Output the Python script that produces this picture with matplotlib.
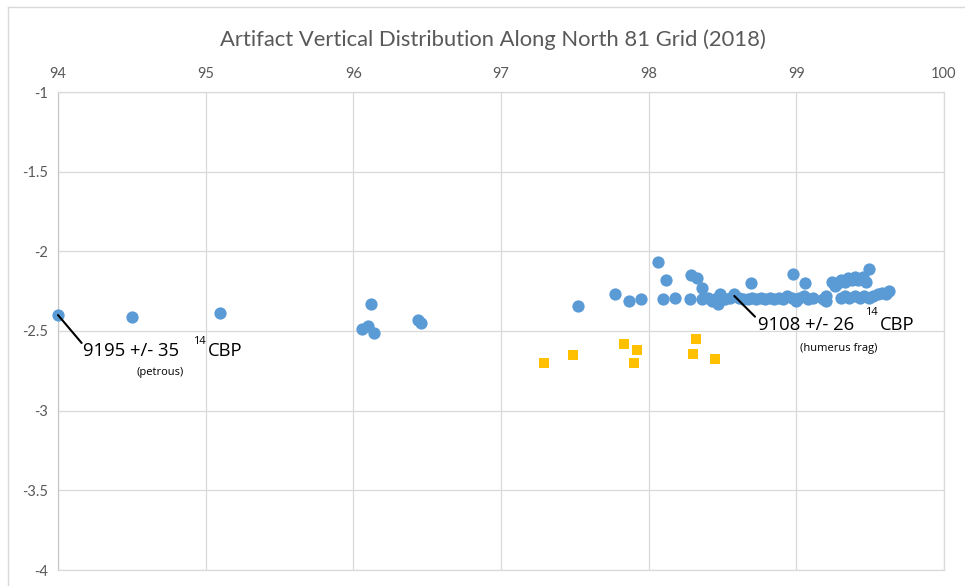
import matplotlib
matplotlib.use("Agg")
import matplotlib.pyplot as plt
from matplotlib.lines import Line2D

# data
blue_x = [94.00, 94.50, 95.10, 96.06, 96.10, 96.14, 96.12, 96.44, 96.46,
          97.52, 97.77, 97.87, 97.95, 98.06, 98.12, 98.10, 98.18, 98.28,
          98.29, 98.33, 98.36, 98.36, 98.40, 98.43, 98.45, 98.47, 98.48,
          98.52, 98.55, 98.58, 98.61, 98.64, 98.67, 98.69, 98.70, 98.73,
          98.76, 98.79, 98.82, 98.85, 98.88, 98.91, 98.94, 98.97, 98.98,
          99.00, 99.02, 99.05, 99.06, 99.08, 99.11, 99.18, 99.20, 99.20,
          99.24, 99.26, 99.28, 99.30, 99.33, 99.35, 99.38, 99.40, 99.42,
          99.45, 99.47, 99.49, 99.30, 99.33, 99.36, 99.40, 99.43, 99.46,
          99.49, 99.52, 99.55, 99.58, 99.61, 99.63]
blue_y = [-2.40, -2.41, -2.39, -2.49, -2.47, -2.51, -2.33, -2.43, -2.45,
          -2.34, -2.27, -2.31, -2.30, -2.07, -2.18, -2.30, -2.29, -2.30,
          -2.15, -2.17, -2.23, -2.30, -2.29, -2.31, -2.30, -2.33, -2.27,
          -2.30, -2.29, -2.27, -2.29, -2.30, -2.30, -2.20, -2.29, -2.30,
          -2.29, -2.30, -2.29, -2.30, -2.29, -2.30, -2.28, -2.29, -2.14,
          -2.31, -2.29, -2.28, -2.20, -2.30, -2.29, -2.30, -2.28, -2.31,
          -2.19, -2.22, -2.20, -2.18, -2.19, -2.17, -2.18, -2.16, -2.18,
          -2.16, -2.19, -2.11, -2.29, -2.28, -2.29, -2.28, -2.29, -2.28,
          -2.29, -2.28, -2.27, -2.26, -2.27, -2.25]

orange_x = [97.29, 97.49, 97.83, 97.92, 97.90, 98.32, 98.30, 98.45]
orange_y = [-2.70, -2.65, -2.58, -2.62, -2.70, -2.55, -2.645, -2.675]

x_ticks = [94, 95, 96, 97, 98, 99, 100]
y_ticks = [-1, -1.5, -2, -2.5, -3, -3.5, -4]

title = "Artifact Vertical Distribution Along North 81 Grid (2018)"

W, H = 965, 586
fig = plt.figure(figsize=(W / 100, H / 100), dpi=100)
ax = fig.add_axes([58 / W, 1 - 570 / H, (944 - 58) / W, (570 - 92) / H])

grey = "#595959"
grid_c = "#d9d9d9"

ax.scatter(blue_x, blue_y, s=78, color="#5b9bd5", marker="o", lw=0,
           zorder=3, clip_on=False)
ax.scatter(orange_x, orange_y, s=44, color="#ffc000", marker="s", lw=0,
           zorder=3, clip_on=False)

ax.set_xlim(94, 100)
ax.set_ylim(-4, -1)
ax.set_xticks(x_ticks)
ax.set_yticks(y_ticks)
ax.set_xticklabels([str(t) for t in x_ticks])
ax.set_yticklabels([("%g" % t) for t in y_ticks])
ax.xaxis.tick_top()
ax.tick_params(axis="x", length=0, pad=8, labelsize=10.5, labelcolor=grey)
ax.tick_params(axis="y", length=0, pad=7, labelsize=10.5, labelcolor=grey)
for lab in ax.get_xticklabels() + ax.get_yticklabels():
    lab.set_family("Lato")
ax.grid(True, color=grid_c, lw=0.9)
ax.set_axisbelow(True)
for side, sp in ax.spines.items():
    sp.set_color(grid_c)
    sp.set_linewidth(0.9)
ax.spines["left"].set_color("#c8c8c8")

fig.text(0.511, 1 - 40 / H, title, ha="center", va="center",
         fontsize=15.8, color=grey, family="Lato")

# annotations
font = ["Open Sans", "DejaVu Sans"]
ax.annotate("", xy=(blue_x[0], blue_y[0]), xytext=(94.16, -2.575),
            arrowprops=dict(arrowstyle="-", color="black", lw=1.5,
                            shrinkA=0, shrinkB=0))
ax.text(94.17, -2.625, "9195 +/- 35", ha="left", va="center",
        fontsize=13.3, family=font)
ax.text(94.914, -2.566, "14", ha="left", va="center", fontsize=8, family=font)
ax.text(95.016, -2.625, "CBP", ha="left", va="center", fontsize=13.3, family=font)
ax.text(94.69, -2.76, "(petrous)", ha="center", va="center", fontsize=8, family=font)

ax.annotate("", xy=(98.58, -2.28), xytext=(98.72, -2.41),
            arrowprops=dict(arrowstyle="-", color="black", lw=1.5,
                            shrinkA=0, shrinkB=0))
ax.text(98.74, -2.465, "9108 +/- 26", ha="left", va="center",
        fontsize=13.3, family=font)
ax.text(99.465, -2.381, "14", ha="left", va="center", fontsize=8, family=font)
ax.text(99.566, -2.465, "CBP", ha="left", va="center", fontsize=13.3, family=font)
ax.text(99.285, -2.607, "(humerus frag)", ha="center", va="center",
        fontsize=8, family=font)

# chart frame
fig.add_artist(Line2D([8 / W, 1], [1 - 7 / H] * 2, color=grid_c, lw=1,
                      transform=fig.transFigure))
fig.add_artist(Line2D([8 / W] * 2, [0, 1 - 7 / H], color=grid_c, lw=1,
                      transform=fig.transFigure))

fig.savefig("out.png", dpi=100)
